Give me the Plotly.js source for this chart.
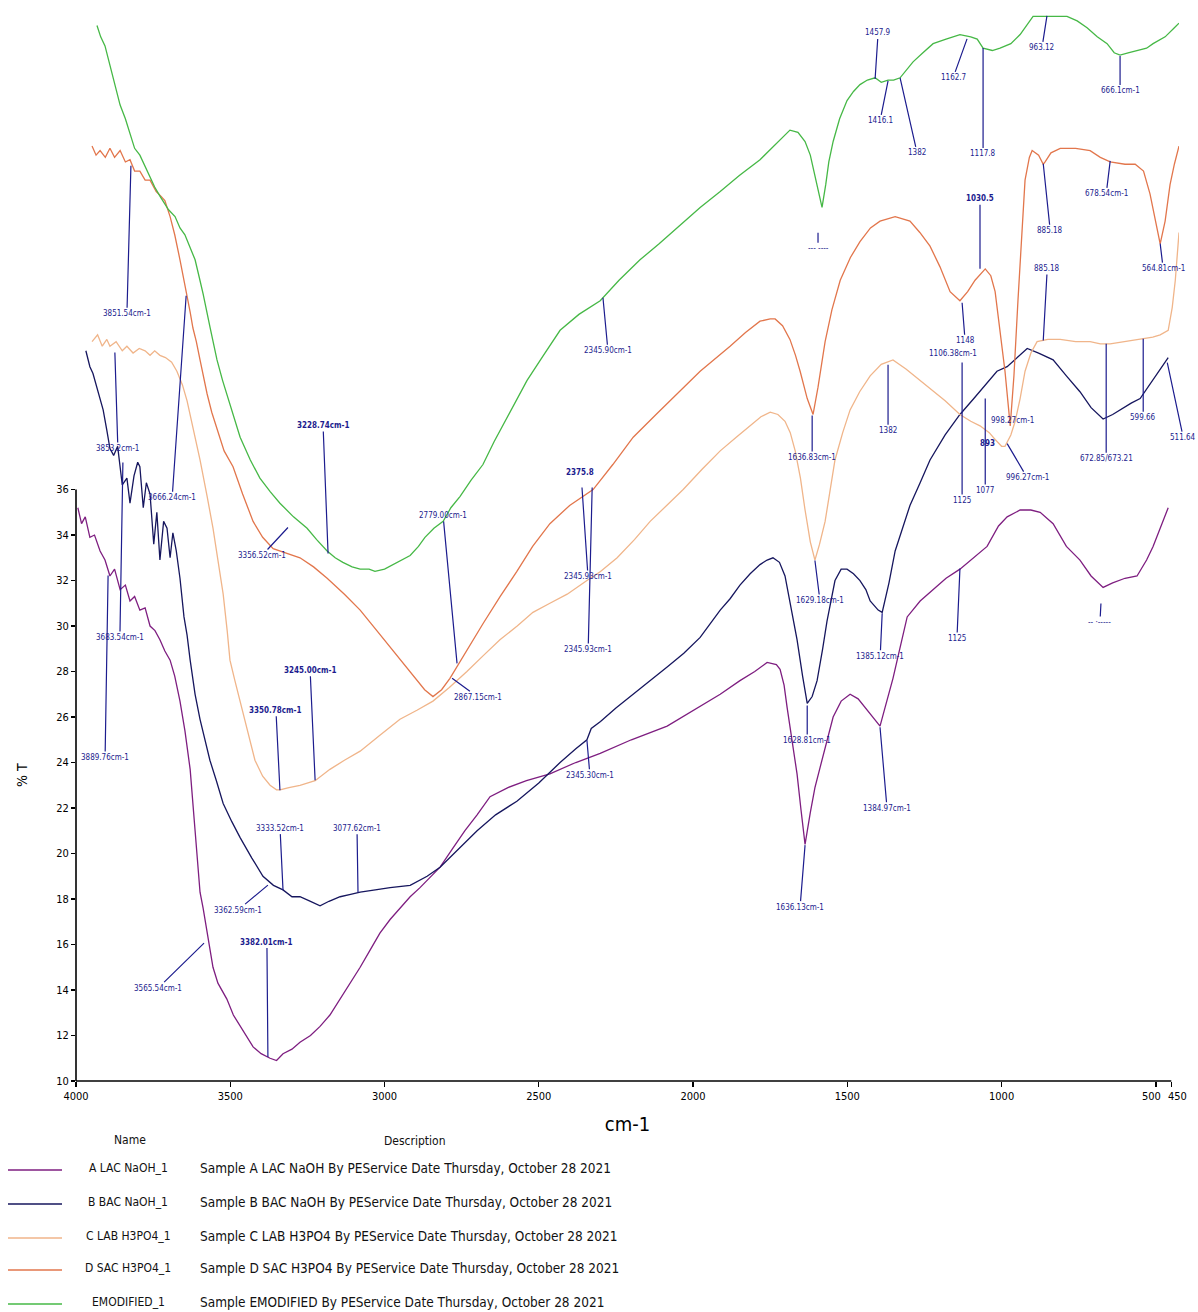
<!DOCTYPE html>
<html>
<head>
<meta charset="utf-8">
<script src="https://cdn.plot.ly/plotly-3.0.1.min.js"></script>
<style>html,body{margin:0;padding:0;background:#fff;}#chart{width:1198px;height:1312px;}</style>
</head>
<body>
<div id="chart"></div>
<script>
// ---------- data (wavenumber cm-1, %T) ----------
const wnA = [3994,3982,3970,3955,3940,3922,3906,3890,3875,3857,3840,3825,3810,3793,3776,3760,3744,3728,3712,3695,3680,3663,3647,3630,3614,3598,3588,3575,3556,3540,3511,3490,3468,3445,3426,3400,3371,3350,3329,3300,3274,3240,3209,3177,3144,3110,3079,3045,3015,2982,2950,2917,2885,2850,2820,2780,2740,2700,2658,2600,2540,2464,2380,2301,2200,2084,2000,1912,1848,1800,1760,1730,1718,1705,1695,1680,1663,1650,1637,1620,1605,1588,1566,1546,1520,1491,1465,1436,1410,1394,1380,1365,1352,1330,1306,1264,1222,1180,1135,1090,1047,1010,982,940,905,875,833,790,746,710,671,640,600,561,530,509,485,460];
const tA  = [35.2,34.5,34.8,33.9,34.0,33.3,32.9,32.2,32.5,31.6,31.8,31.1,31.3,30.7,30.8,30.0,29.8,29.4,28.9,28.5,27.8,26.7,25.4,23.7,21.0,18.3,17.6,16.5,15.0,14.3,13.6,12.9,12.4,11.9,11.5,11.2,11.0,10.9,11.2,11.4,11.7,12.0,12.4,12.9,13.6,14.3,15.0,15.8,16.5,17.1,17.6,18.1,18.5,19.0,19.4,20.2,21.0,21.7,22.5,22.9,23.2,23.5,24.0,24.4,25.0,25.6,26.3,27.0,27.6,28.0,28.4,28.3,28.1,27.4,26.4,25.0,23.5,21.9,20.4,21.8,22.9,23.8,25.0,26.0,26.7,27.0,26.8,26.3,25.9,25.6,26.3,27.0,27.7,29.0,30.4,31.1,31.6,32.1,32.5,33.0,33.5,34.4,34.8,35.1,35.1,35.0,34.5,33.5,32.9,32.2,31.7,31.9,32.1,32.2,32.9,33.5,34.3,35.2];

const wnB = [3968,3955,3945,3930,3912,3900,3890,3878,3865,3850,3835,3825,3812,3800,3793,3782,3772,3760,3748,3738,3728,3716,3705,3695,3686,3675,3663,3650,3640,3630,3614,3598,3582,3566,3545,3523,3495,3468,3430,3394,3360,3329,3300,3274,3240,3209,3180,3144,3110,3079,3030,2982,2917,2862,2820,2760,2700,2640,2571,2500,2431,2380,2344,2330,2300,2250,2194,2140,2084,2030,1977,1912,1880,1848,1815,1783,1760,1741,1720,1702,1685,1663,1645,1630,1614,1598,1580,1566,1540,1520,1501,1480,1459,1440,1426,1400,1387,1365,1345,1320,1297,1264,1232,1183,1135,1090,1053,1015,982,950,917,880,833,790,746,710,671,640,616,580,551,510,460];
const tB  = [42.1,41.4,41.1,40.4,39.5,38.6,37.8,37.5,37.9,36.2,36.5,35.4,36.6,37.2,37.0,35.2,36.3,35.8,33.6,35.0,32.9,34.6,34.3,33.0,34.1,33.3,32.1,30.4,29.6,28.5,27.0,25.9,25.0,24.1,23.2,22.2,21.4,20.7,19.8,19.0,18.6,18.4,18.1,18.1,17.9,17.7,17.9,18.1,18.2,18.3,18.4,18.5,18.6,19.0,19.4,20.2,21.0,21.7,22.3,23.1,24.0,24.6,25.0,25.5,25.8,26.4,27.0,27.6,28.2,28.8,29.5,30.7,31.2,31.8,32.3,32.7,32.9,33.0,32.8,32.2,30.9,29.4,27.8,26.6,26.9,27.6,29.0,30.2,32.0,32.5,32.5,32.3,32.0,31.6,31.1,30.7,30.6,31.9,33.3,34.3,35.3,36.3,37.3,38.4,39.3,40.0,40.6,41.2,41.4,41.8,42.2,42.0,41.7,41.0,40.3,39.6,39.1,39.3,39.5,39.8,40.0,40.8,41.8];

const wnC = [3948,3930,3915,3900,3890,3870,3850,3835,3815,3795,3776,3760,3745,3728,3710,3690,3673,3655,3640,3620,3598,3575,3556,3540,3523,3510,3501,3485,3468,3445,3420,3395,3371,3350,3339,3310,3274,3225,3177,3130,3079,3015,2950,2895,2843,2790,2733,2680,2626,2570,2519,2464,2408,2344,2300,2246,2190,2139,2085,2032,1970,1912,1860,1815,1780,1750,1725,1702,1685,1669,1652,1637,1620,1605,1590,1572,1555,1540,1515,1491,1460,1426,1390,1352,1310,1264,1220,1183,1135,1100,1070,1040,1021,1000,989,970,956,940,924,905,885,850,810,760,713,680,648,600,551,510,486,460,447,437,425];
const tC  = [42.5,42.8,42.3,42.6,42.3,42.5,42.1,42.3,42.0,42.2,42.1,41.9,42.1,41.9,41.8,41.6,41.2,40.6,39.9,38.7,37.3,35.7,34.3,32.9,31.4,29.8,28.5,27.6,26.7,25.4,24.1,23.4,23.0,22.8,22.8,22.9,23.0,23.2,23.7,24.1,24.5,25.2,25.9,26.3,26.7,27.3,28.0,28.7,29.4,30.0,30.6,31.0,31.4,32.0,32.4,33.0,33.8,34.6,35.3,36.0,36.9,37.7,38.3,38.8,39.2,39.4,39.3,39.0,38.5,37.7,36.5,35.1,33.7,32.9,33.6,34.6,36.0,37.3,38.5,39.5,40.3,41.0,41.5,41.7,41.3,40.8,40.3,39.9,39.3,39.0,38.8,38.5,38.2,37.9,37.9,38.4,39.0,40.0,41.2,42.0,42.5,42.6,42.6,42.5,42.5,42.4,42.4,42.5,42.6,42.7,42.8,43.0,44.0,45.2,47.3];

const wnD = [3948,3935,3922,3905,3890,3875,3857,3840,3825,3810,3793,3776,3760,3740,3725,3712,3695,3680,3663,3645,3630,3621,3610,3598,3575,3560,3543,3520,3491,3460,3426,3395,3361,3320,3274,3230,3186,3130,3079,3025,2972,2930,2895,2870,2843,2815,2788,2740,2681,2625,2571,2520,2464,2400,2324,2260,2194,2120,2052,1977,1880,1830,1783,1750,1734,1710,1686,1668,1653,1630,1611,1595,1572,1550,1523,1490,1459,1425,1394,1345,1297,1265,1232,1200,1167,1135,1110,1086,1053,1035,1021,1005,989,972,960,947,935,924,910,901,880,865,859,840,810,760,713,680,648,600,567,540,519,500,486,470,454,440,425];
const tD  = [51.1,50.7,50.9,50.6,51.0,50.6,50.9,50.4,50.5,50.0,50.0,49.6,49.6,49.1,48.9,48.7,48.0,47.2,46.1,44.9,43.8,43.1,42.5,41.7,40.2,39.4,38.7,37.7,37.0,35.8,34.6,33.9,33.4,33.2,33.0,32.6,32.1,31.4,30.7,29.8,28.9,28.2,27.6,27.2,26.9,27.2,27.7,28.8,30.1,31.3,32.4,33.5,34.5,35.3,36.0,37.1,38.3,39.3,40.2,41.2,42.3,42.9,43.4,43.5,43.5,43.2,42.6,41.9,41.2,40.0,39.3,40.5,42.5,43.9,45.2,46.2,46.9,47.5,47.8,48.0,47.8,47.3,46.7,45.8,44.7,44.3,44.7,45.2,45.7,45.4,44.7,43.0,41.2,38.8,41.0,44.3,47.0,49.6,50.6,50.9,50.7,50.3,50.4,50.8,51.0,51.0,50.9,50.6,50.4,50.3,50.3,50.0,49.0,47.8,46.8,47.8,49.4,50.3,51.1];

const wnE = [3932,3920,3906,3895,3883,3870,3857,3840,3825,3810,3793,3776,3760,3745,3728,3700,3679,3663,3647,3630,3614,3600,3588,3565,3543,3525,3511,3490,3468,3435,3404,3370,3339,3295,3251,3220,3186,3160,3135,3105,3079,3050,3031,3000,2972,2945,2917,2890,2869,2840,2810,2785,2755,2720,2681,2645,2609,2575,2538,2485,2431,2370,2301,2240,2172,2110,2042,1977,1912,1850,1783,1730,1686,1660,1637,1620,1605,1592,1582,1570,1560,1546,1525,1501,1480,1459,1435,1410,1390,1368,1350,1329,1310,1287,1255,1222,1180,1135,1100,1079,1060,1030,1005,970,940,920,898,850,788,755,723,690,658,635,616,590,561,530,509,470,440,425];
const tE  = [56.4,55.9,55.5,54.9,54.2,53.6,52.9,52.3,51.6,51.0,50.7,50.2,49.8,49.3,48.9,48.3,48.0,47.5,47.2,46.6,46.1,45.3,44.6,43.1,41.7,40.8,40.2,39.2,38.3,37.3,36.5,35.9,35.4,34.8,34.3,33.8,33.3,33.0,32.8,32.6,32.5,32.5,32.4,32.5,32.7,32.9,33.1,33.5,33.9,34.3,34.6,35.2,35.7,36.4,37.1,38.1,39.0,39.9,40.8,41.9,43.0,43.7,44.3,45.2,46.1,46.8,47.6,48.4,49.1,49.8,50.5,51.2,51.8,51.7,51.3,50.7,49.8,48.9,48.4,49.4,50.4,51.3,52.3,53.1,53.5,53.8,54.0,54.1,53.9,54.0,54.0,54.1,54.4,54.8,55.2,55.6,55.8,56.0,55.9,55.8,55.4,55.3,55.4,55.6,56.0,56.4,56.8,56.8,56.8,56.6,56.3,55.9,55.6,55.2,55.1,55.2,55.3,55.4,55.6,55.9,56.3,56.5];

const seriesNames = ["A LAC NaOH_1","B BAC NaOH_1","C LAB H3PO4_1","D SAC H3PO4_1","EMODIFIED_1"];
const seriesDesc = [
  "Sample A LAC NaOH By PEService Date Thursday, October 28 2021",
  "Sample B BAC NaOH By PEService Date Thursday, October 28 2021",
  "Sample C LAB H3PO4 By PEService Date Thursday, October 28 2021",
  "Sample D SAC H3PO4 By PEService Date Thursday, October 28 2021",
  "Sample EMODIFIED By PEService Date Thursday, October 28 2021"
];
const xTickVals = [4000,3500,3000,2500,2000,1500,1000,500,450];
const xTickText = ["4000","3500","3000","2500","2000","1500","1000","",""];
const xEndTicks = [500,450];
const xEndText = ["500","450"];
const yTickVals = [10,12,14,16,18,20,22,24,26,28,30,32,34,36];

// peak labels: [text, wavenumber, %T, label dx(px), label dy(px)]
const peakLabels = [
 ["3851.54cm-1",3822,50.23,-4,148],
 ["3853.2cm-1",3874,42.02,3,96],
 ["3683.54cm-1",3848,37.19,-3,175],
 ["3889.76cm-1",3896,32.22,-3,182],
 ["3666.24cm-1",3643,44.52,-14,202],
 ["3356.52cm-1",3313,34.33,-26,28],
 ["<b>3228.74cm-1</b>",3183,33.19,-5,-128],
 ["2779.00cm-1",2765,28.36,-14,-148],
 ["2867.15cm-1",2781,27.70,26,19],
 ["2345.93cm-1",2360,36.09,6,89],
 ["2345.93cm-1",2327,36.09,-4,162],
 ["2345.90cm-1",2292,44.43,5,53],
 ["2345.30cm-1",2344,24.98,3,35],
 ["<b>3350.78cm-1</b>",3339,22.78,-4,-80],
 ["<b>3245.00cm-1</b>",3225,23.22,-5,-110],
 ["<b>3382.01cm-1</b>",3378,11.05,-1,-115],
 ["3333.52cm-1",3329,18.39,-3,-62],
 ["3077.62cm-1",3086,18.30,-1,-64],
 ["3362.59cm-1",3378,18.61,-30,25],
 ["3565.54cm-1",3585,16.06,-46,45],
 ["1636.83cm-1",1614,39.25,0,42],
 ["1382",1368,41.49,0,66],
 ["1148",1128,44.21,3,38],
 ["1125",1128,41.58,0,138],
 ["1077",1053,40.0,0,92],
 ["996.27cm-1",982,38.02,20,34],
 ["<b>1030.5</b>",1070,45.71,0,-70],
 ["1117.8",1060,55.41,0,106],
 ["1162.7",1112,55.81,-14,39],
 ["1457.9",1410,54.05,3,-46],
 ["1416.1",1368,53.96,-8,40],
 ["1382",1329,54.10,17,75],
 ["963.12",853,56.82,-5,32],
 ["666.1cm-1",616,55.06,0,35],
 ["678.54cm-1",648,50.45,-4,33],
 ["885.18",865,50.32,7,67],
 ["885.18",865,42.55,4,-72],
 ["564.81cm-1",486,46.81,3,25],
 ["672.85/673.21",661,42.41,0,115],
 ["599.66",541,42.63,0,79],
 ["511.64",463,41.58,16,75],
 ["-- ·-----",678,30.99,-1,19],
 ["--- ----",1595,47.29,0,16],
 ["1636.13cm-1",1637,20.37,-5,62],
 ["1628.81cm-1",1630,26.51,0,35],
 ["1629.18cm-1",1605,32.88,5,40],
 ["1385.12cm-1",1387,30.56,-2,43],
 ["1384.97cm-1",1394,25.55,7,81],
 ["1125",1135,32.53,-3,70]
];
const plainLabels = [
 ["<b>2375.8</b>",2366,36.75],
 ["<b>893</b>",1047,38.02],
 ["998.27cm-1",966,39.03],
 ["1106.38cm-1",1157,41.97]
];

// ---------- styles ----------
const colors = ["#7e1e80","#16165e","#f0b58a","#e2764c","#46b846"];
const NAVY = "#1c1c8e";
const LBLFONT = {family:"DejaVu Sans Condensed, Liberation Sans Narrow, sans-serif", size:8, color:NAVY};
const TICKFONT = {family:"Liberation Sans Narrow, DejaVu Sans Condensed, sans-serif", size:11, color:"#000"};
const NAMEFONT = {family:"DejaVu Sans Condensed, sans-serif", size:12, color:"#111"};
const DESCFONT = {family:"DejaVu Sans Condensed, sans-serif", size:13.5, color:"#111"};

const xs = [wnA,wnB,wnC,wnD,wnE];
const ys = [tA,tB,tC,tD,tE];
const traces = xs.map((x,i)=>({
  x:x, y:ys[i], type:"scatter", mode:"lines", name:seriesNames[i],
  line:{color:colors[i], width:1.3}, hoverinfo:"skip"
}));

const L=76, R=19, T=5, B=231, W=1198, H=1312;
const pw = W-L-R, ph = H-T-B;
const px = p => (p-L)/pw;          // pixel -> paper x
const py = p => (H-B-p)/ph;        // pixel -> paper y
const yMin=10, yMax=57.3, xLeft=4000, xRight=425;

const annotations = [];
peakLabels.forEach(a=>{
  annotations.push({x:a[1], y:a[2], xref:"x", yref:"y", text:a[0], showarrow:true,
    arrowhead:0, arrowwidth:1.2, arrowcolor:NAVY, ax:a[3], ay:a[4], standoff:0,
    font:LBLFONT});
});
plainLabels.forEach(a=>{
  annotations.push({x:a[1], y:a[2], xref:"x", yref:"y", text:a[0], showarrow:false, font:LBLFONT});
});
// last two x tick labels (placed apart so they do not collide)
xEndTicks.forEach((v,i)=>{
  annotations.push({x:v, xref:"x", yref:"paper", y:py(1096), yanchor:"middle", xanchor:"center",
    xshift: i===0 ? -4 : 6, text:xEndText[i], showarrow:false, font:TICKFONT});
});
// y title
annotations.push({xref:"paper", yref:"paper", x:px(22), y:py(775), xanchor:"center", yanchor:"middle", text:"% T", textangle:-90,
  showarrow:false, font:{family:"DejaVu Sans Condensed, sans-serif", size:14, color:"#000"}});
// legend table
annotations.push({xref:"paper", yref:"paper", x:px(130), y:py(1140), xanchor:"center", yanchor:"middle", text:"Name", showarrow:false, font:NAMEFONT});
annotations.push({xref:"paper", yref:"paper", x:px(415), y:py(1141), xanchor:"center", yanchor:"middle", text:"Description", showarrow:false, font:NAMEFONT});
const rowY = [1168,1202,1236,1268,1302];
const shapes = [];
seriesNames.forEach((n,i)=>{
  annotations.push({xref:"paper", yref:"paper", x:px(128), y:py(rowY[i]), xanchor:"center", yanchor:"middle", text:n, showarrow:false, font:NAMEFONT});
  annotations.push({xref:"paper", yref:"paper", x:px(198), y:py(rowY[i]), xanchor:"left", yanchor:"middle", text:seriesDesc[i], showarrow:false, font:DESCFONT});
  shapes.push({type:"line", xref:"paper", yref:"paper", x0:px(8), x1:px(62), y0:py(rowY[i]+2), y1:py(rowY[i]+2),
    line:{color:colors[i], width:1.5}});
});
// axis lines (y axis only up to 36, x axis to 450)
shapes.push({type:"line", xref:"paper", yref:"paper", x0:0, x1:0, y0:0, y1:(36-yMin)/(yMax-yMin), line:{color:"#000", width:1.6}});
shapes.push({type:"line", xref:"paper", yref:"paper", x0:0, x1:(xLeft-450)/(xLeft-xRight), y0:0, y1:0, line:{color:"#000", width:1.6}});

const layout = {
  width:W, height:H,
  margin:{l:L, r:R, t:T, b:B},
  paper_bgcolor:"#fff", plot_bgcolor:"#fff",
  showlegend:false,
  xaxis:{range:[xLeft,xRight], tickvals:xTickVals, ticktext:xTickText, tickangle:0,
    ticks:"outside", ticklen:5, tickwidth:1.4, tickcolor:"#000",
    showline:false, showgrid:false, zeroline:false, tickfont:TICKFONT,
    title:{text:"cm-1", font:{family:"Liberation Sans Narrow, DejaVu Sans Condensed, sans-serif", size:20, color:"#000"}, standoff:14}},
  yaxis:{range:[yMin,yMax], tickvals:yTickVals, ticks:"outside", ticklen:4, tickwidth:1.4, tickcolor:"#000",
    showline:false, showgrid:false, zeroline:false, tickfont:TICKFONT},
  annotations:annotations,
  shapes:shapes
};

Plotly.newPlot("chart", traces, layout, {staticPlot:true, displayModeBar:false});
</script>
</body>
</html>
